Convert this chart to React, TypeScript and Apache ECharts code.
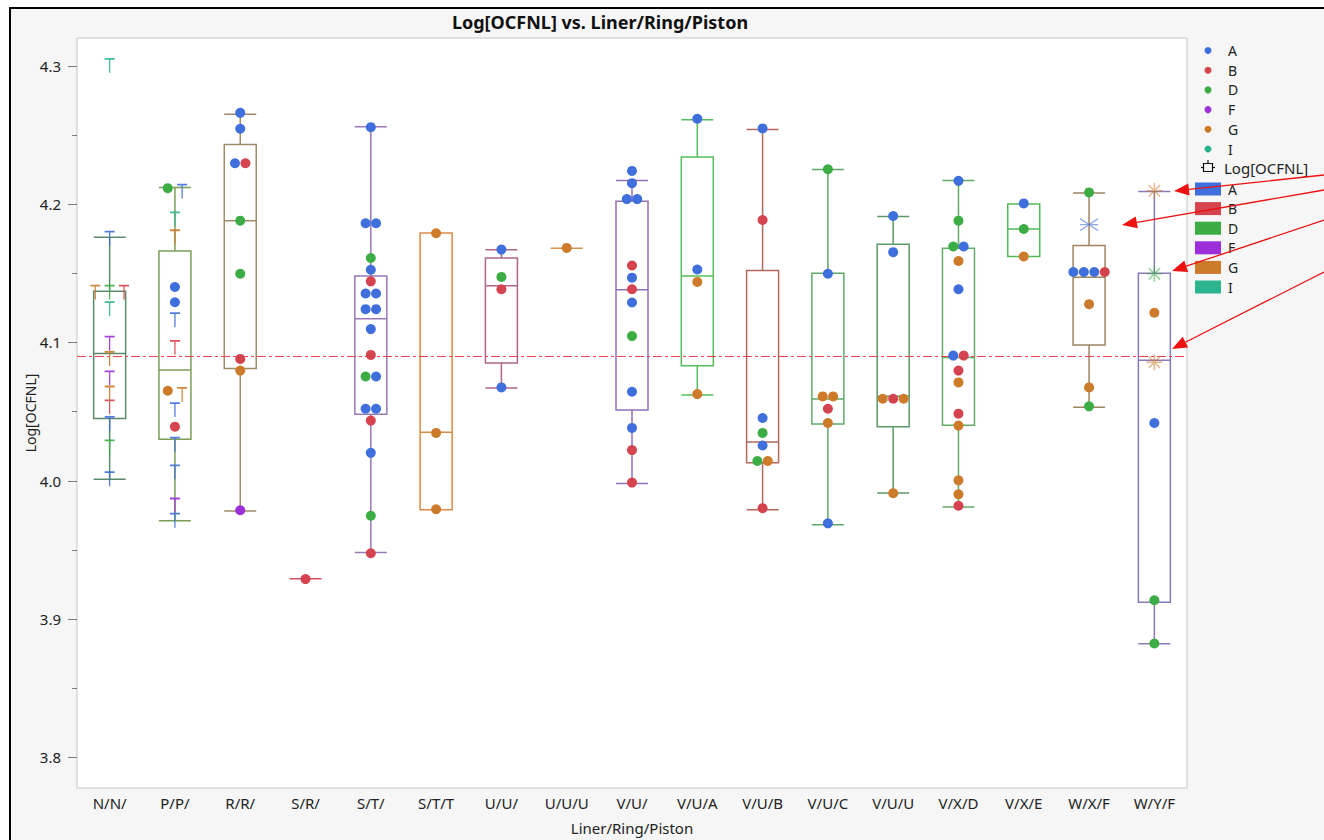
import React, { useEffect, useRef } from "react";
import * as echarts from "echarts";

// ---------- data ----------
const categories = ["N/N/", "P/P/", "R/R/", "S/R/", "S/T/", "S/T/T", "U/U/", "U/U/U", "V/U/", "V/U/A", "V/U/B", "V/U/C", "V/U/U", "V/X/D", "V/X/E", "W/X/F", "W/Y/F"];

const whiskerLow = [4.001, 3.971, 3.978, 3.929, 3.948, 3.979, 4.067, 4.168, 3.998, 4.062, 3.979, 3.968, 3.991, 3.981, 4.162, 4.053, 3.882];
const quartile1 = [4.045, 4.030, 4.081, 3.929, 4.048, 3.979, 4.085, 4.168, 4.051, 4.083, 4.013, 4.041, 4.039, 4.040, 4.162, 4.098, 3.912];
const medians = [4.092, 4.080, 4.188, 3.929, 4.117, 4.035, 4.141, 4.168, 4.138, 4.148, 4.028, 4.059, 4.061, 4.089, 4.182, 4.147, 4.087];
const quartile3 = [4.137, 4.166, 4.243, 3.929, 4.148, 4.179, 4.161, 4.168, 4.202, 4.234, 4.152, 4.150, 4.171, 4.168, 4.200, 4.170, 4.150];
const whiskerHigh = [4.176, 4.212, 4.265, 3.929, 4.256, 4.179, 4.167, 4.168, 4.217, 4.261, 4.254, 4.225, 4.191, 4.217, 4.200, 4.208, 4.209];

const overallMean = 4.0935;
const yTickValues = [3.8, 3.9, 4.0, 4.1, 4.2, 4.3];
const yMinorTickValues = [3.85, 3.95, 4.05, 4.15, 4.25];
const groups = ["A", "B", "D", "F", "G", "I"];

// points per category: [group, value, marker]  (o = dot, T = T marker, * = star, x = cross)
type Pt = [string, number, string];
const ptsNN: Pt[] = [["I", 4.300, "T"], ["A", 4.175, "T"], ["G", 4.136, "T"], ["D", 4.136, "T"], ["B", 4.136, "T"], ["I", 4.124, "T"], ["F", 4.099, "T"], ["G", 4.088, "T"], ["F", 4.074, "T"], ["G", 4.063, "T"], ["B", 4.053, "T"], ["A", 4.041, "T"], ["D", 4.024, "T"], ["A", 4.001, "T"]];
const ptsPP: Pt[] = [["D", 4.2115, "o"], ["A", 4.209, "T"], ["I", 4.189, "T"], ["G", 4.176, "T"], ["A", 4.140, "o"], ["A", 4.129, "o"], ["A", 4.116, "T"], ["B", 4.096, "T"], ["G", 4.065, "o"], ["G", 4.062, "T"], ["A", 4.051, "T"], ["B", 4.039, "o"], ["A", 4.026, "T"], ["A", 4.006, "T"], ["F", 3.982, "T"], ["A", 3.971, "T"]];
const ptsRR: Pt[] = [["A", 4.266, "o"], ["A", 4.2545, "o"], ["A", 4.2295, "o"], ["B", 4.2295, "o"], ["D", 4.188, "o"], ["D", 4.1496, "o"], ["B", 4.088, "o"], ["G", 4.0796, "o"], ["F", 3.9786, "o"]];
const ptsSR: Pt[] = [["B", 3.9288, "o"]];
const ptsST: Pt[] = [["A", 4.2556, "o"], ["A", 4.1861, "o"], ["A", 4.1861, "o"], ["D", 4.161, "o"], ["A", 4.1525, "o"], ["B", 4.1441, "o"], ["A", 4.1353, "o"], ["A", 4.1353, "o"], ["A", 4.124, "o"], ["A", 4.124, "o"], ["A", 4.1096, "o"], ["B", 4.0909, "o"], ["D", 4.0753, "o"], ["A", 4.0753, "o"], ["A", 4.052, "o"], ["A", 4.052, "o"], ["B", 4.0434, "o"], ["A", 4.0201, "o"], ["D", 3.9746, "o"], ["B", 3.9475, "o"]];
const ptsSTT: Pt[] = [["G", 4.1789, "o"], ["G", 4.0345, "o"], ["G", 3.9793, "o"]];
const ptsUU: Pt[] = [["A", 4.1671, "o"], ["D", 4.1473, "o"], ["B", 4.1384, "o"], ["A", 4.0674, "o"]];
const ptsUUU: Pt[] = [["G", 4.1683, "o"]];
const ptsVU: Pt[] = [["A", 4.224, "o"], ["A", 4.2151, "o"], ["A", 4.2036, "o"], ["A", 4.2036, "o"], ["B", 4.1556, "o"], ["A", 4.1468, "o"], ["B", 4.1384, "o"], ["A", 4.1288, "o"], ["D", 4.1045, "o"], ["A", 4.0643, "o"], ["A", 4.0381, "o"], ["B", 4.0221, "o"], ["B", 3.9986, "o"]];
const ptsVUA: Pt[] = [["A", 4.2617, "o"], ["A", 4.1527, "o"], ["G", 4.1437, "o"], ["G", 4.0626, "o"]];
const ptsVUB: Pt[] = [["A", 4.2547, "o"], ["B", 4.1885, "o"], ["A", 4.0453, "o"], ["D", 4.0345, "o"], ["A", 4.0254, "o"], ["D", 4.0142, "o"], ["G", 4.0142, "o"], ["B", 3.9801, "o"]];
const ptsVUC: Pt[] = [["D", 4.2252, "o"], ["A", 4.1496, "o"], ["G", 4.0609, "o"], ["G", 4.0609, "o"], ["B", 4.052, "o"], ["G", 4.0417, "o"], ["A", 3.9691, "o"]];
const ptsVUU: Pt[] = [["A", 4.1914, "o"], ["A", 4.1652, "o"], ["G", 4.0592, "o"], ["B", 4.0592, "o"], ["G", 4.0592, "o"], ["G", 3.9909, "o"]];
const ptsVXD: Pt[] = [["A", 4.2168, "o"], ["D", 4.188, "o"], ["D", 4.1693, "o"], ["A", 4.1693, "o"], ["G", 4.1588, "o"], ["A", 4.1384, "o"], ["A", 4.0904, "o"], ["B", 4.0904, "o"], ["B", 4.0796, "o"], ["G", 4.071, "o"], ["B", 4.0484, "o"], ["G", 4.0398, "o"], ["G", 4.0002, "o"], ["G", 3.9901, "o"], ["B", 3.9818, "o"]];
const ptsVXE: Pt[] = [["A", 4.2005, "o"], ["D", 4.182, "o"], ["G", 4.1621, "o"]];
const ptsWXF: Pt[] = [["D", 4.2084, "o"], ["A", 4.1851, "x"], ["A", 4.1509, "o"], ["A", 4.1509, "o"], ["A", 4.1509, "o"], ["B", 4.1509, "o"], ["G", 4.1276, "o"], ["G", 4.0674, "o"], ["D", 4.0537, "o"]];
const ptsWYF: Pt[] = [["G", 4.2096, "*"], ["D", 4.1496, "*"], ["G", 4.1214, "o"], ["G", 4.0856, "*"], ["A", 4.0417, "o"], ["D", 3.9135, "o"], ["D", 3.8822, "o"]];

const categoryPoints: Pt[][] = [ptsNN, ptsPP, ptsRR, ptsSR, ptsST, ptsSTT, ptsUU, ptsUUU, ptsVU, ptsVUA, ptsVUB, ptsVUC, ptsVUU, ptsVXD, ptsVXE, ptsWXF, ptsWYF];

// ---------- styles ----------
const groupColors: Record<string, string> = {
  A: "#3f6fdc",
  B: "#d5434f",
  D: "#3cad45",
  F: "#9c2fd9",
  G: "#cd7a2a",
  I: "#2bb48e",
};
const boxColors = ["#5a8a6a", "#7b9e55", "#a08a6a", "#cf5060", "#9a78b8", "#d98b45", "#b0658a", "#d9914e", "#9070b5", "#55be5a", "#b5685e", "#5fa86b", "#5a9a68", "#62ad66", "#55b95a", "#a08460", "#8c7ab8"];

const FONT = "'Noto Sans', 'DejaVu Sans', sans-serif";
const TXT = "#222";
const Y_MIN = 3.7777;
const Y_MAX = 4.3201;

const SYMBOLS: Record<string, { symbol: string; size: number | number[]; stroke: boolean; opacity: number }> = {
  o: { symbol: "circle", size: 10, stroke: false, opacity: 1 },
  T: { symbol: "path://M0,0H10M5,0V14", size: [10, 14], stroke: true, opacity: 0.9 },
  "*": { symbol: "path://M8,0V16M0,8H16M2.3,2.3L13.7,13.7M13.7,2.3L2.3,13.7", size: 16, stroke: true, opacity: 0.55 },
  x: { symbol: "path://M0,0L18,12M18,0L0,12M0,6H18", size: [18, 12], stroke: true, opacity: 0.6 },
};

function buildScatter() {
  const byGroup: Record<string, any[]> = {};
  groups.forEach((g) => (byGroup[g] = []));
  categoryPoints.forEach((pts, ci) => {
    const used = pts.map(() => false);
    for (let i = 0; i < pts.length; i++) {
      if (used[i]) continue;
      const cluster = [i];
      used[i] = true;
      for (let j = i + 1; j < pts.length; j++) {
        if (!used[j] && Math.abs(pts[j][1] - pts[i][1]) < 0.0045) {
          cluster.push(j);
          used[j] = true;
        }
      }
      const hasT = cluster.some((k) => pts[k][2] === "T");
      const step = hasT ? 0.22 : 0.16;
      cluster.forEach((k, idx) => {
        const [g, v, m] = pts[k];
        const off = (idx - (cluster.length - 1) / 2) * step;
        const s = SYMBOLS[m];
        const c = groupColors[g];
        byGroup[g].push({
          value: [ci + off, v],
          symbol: s.symbol,
          symbolSize: s.size,
          itemStyle: s.stroke
            ? { color: "none", borderColor: c, borderWidth: 1.5, opacity: s.opacity }
            : { color: c, borderWidth: 0, opacity: 1 },
        });
      });
    }
  });
  return groups.map((g) => ({
    type: "scatter",
    name: g,
    xAxisIndex: 1,
    yAxisIndex: 0,
    z: 5,
    data: byGroup[g],
    silent: true,
  }));
}

// y-axis ticks + tick labels drawn through the axis scale in one custom series
const tickRows: number[][] = [
  ...yTickValues.map((v) => [v, 1]),
  ...yMinorTickValues.map((v) => [v, 0]),
];

const tickSeries = {
  type: "custom",
  xAxisIndex: 1,
  yAxisIndex: 0,
  clip: false,
  silent: true,
  z: 50,
  dimensions: ["v", "major"],
  encode: { y: 0 },
  data: tickRows,
  renderItem: (params: any, api: any) => {
    const v = api.value(0);
    const major = api.value(1) === 1;
    const p = api.coord([-0.5, v]);
    const len = major ? 9 : 5;
    const y = Math.round(p[1]) + 0.5;
    const children: any[] = [
      {
        type: "rect",
        shape: { x: p[0] - len, y: y - 0.5, width: len, height: 1 },
        style: { fill: "#7a7a7a" },
      },
    ];
    if (major) {
      children.push({
        type: "text",
        x: p[0] - 16,
        y: p[1],
        style: {
          text: v.toFixed(1),
          fill: TXT,
          font: `15px ${FONT}`,
          align: "right",
          verticalAlign: "middle",
        },
      });
    }
    return { type: "group", children };
  },
};

function arrow(x1: number, y1: number, x2: number, y2: number) {
  const ang = Math.atan2(y2 - y1, x2 - x1);
  const L = 15;
  const W = 6;
  const bx = x2 - L * Math.cos(ang);
  const by = y2 - L * Math.sin(ang);
  const px = -Math.sin(ang) * W;
  const py = Math.cos(ang) * W;
  return [
    { type: "line", z: 100, shape: { x1, y1, x2: bx, y2: by }, style: { stroke: "#ee1111", lineWidth: 1.3 } },
    { type: "polygon", z: 100, shape: { points: [[x2, y2], [bx + px, by + py], [bx - px, by - py]] }, style: { fill: "#ee1111" } },
  ];
}

function buildGraphic() {
  const els: any[] = [];
  els.push({
    type: "text",
    x: 600,
    y: 22,
    style: { text: "Log[OCFNL] vs. Liner/Ring/Piston", fill: "#111", font: `bold 18px ${FONT}`, textAlign: "center", textVerticalAlign: "middle" },
  });
  groups.forEach((g, i) => {
    const cy = 50.5 + i * 19.7;
    els.push({ type: "circle", shape: { cx: 1208, cy, r: 3.5 }, style: { fill: groupColors[g] } });
    els.push({ type: "text", x: 1228, y: cy, style: { text: g, fill: TXT, font: `14px ${FONT}`, textVerticalAlign: "middle" } });
  });
  // box icon
  els.push({ type: "line", shape: { x1: 1201, y1: 167.5, x2: 1215, y2: 167.5 }, style: { stroke: "#111", lineWidth: 1.2 } });
  els.push({ type: "rect", shape: { x: 1203.5, y: 163.5, width: 9, height: 8 }, style: { fill: "#f6f6f6", stroke: "#111", lineWidth: 1.2 } });
  els.push({ type: "line", shape: { x1: 1208, y1: 160, x2: 1208, y2: 163.5 }, style: { stroke: "#111", lineWidth: 1.2 } });
  els.push({ type: "text", x: 1224, y: 167.5, style: { text: "Log[OCFNL]", fill: TXT, font: `15px ${FONT}`, textVerticalAlign: "middle" } });
  groups.forEach((g, i) => {
    const y = 182.5 + i * 19.6;
    els.push({ type: "rect", shape: { x: 1195, y, width: 26, height: 13 }, style: { fill: groupColors[g] } });
    els.push({ type: "text", x: 1228, y: y + 6.5, style: { text: g, fill: TXT, font: `14px ${FONT}`, textVerticalAlign: "middle" } });
  });
  els.push(...arrow(1324, 175, 1174, 191));
  els.push(...arrow(1324, 190, 1122, 225));
  els.push(...arrow(1324, 220, 1172, 271));
  els.push(...arrow(1324, 272, 1172, 349));
  return els;
}

export default function App() {
  const ref = useRef<HTMLDivElement>(null);
  useEffect(() => {
    if (!ref.current) return;
    const chart = echarts.init(ref.current, undefined, { renderer: "svg" });
    const option: any = {
      animation: false,
      backgroundColor: "transparent",
      textStyle: { fontFamily: FONT },
      grid: {
        left: 77,
        top: 38,
        width: 1110,
        height: 754,
        show: true,
        backgroundColor: "#ffffff",
        borderColor: "#c4c4c4",
        borderWidth: 1,
      },
      xAxis: [
        {
          type: "category",
          data: categories,
          boundaryGap: true,
          position: "bottom",
          axisLine: { show: false, onZero: false },
          axisTick: { show: false },
          axisLabel: { color: TXT, fontSize: 15, margin: 7, fontFamily: FONT },
          splitLine: { show: false },
          name: "Liner/Ring/Piston",
          nameLocation: "middle",
          nameGap: 32,
          nameTextStyle: { color: TXT, fontSize: 15, fontFamily: FONT },
        },
        { type: "value", min: -0.5, max: 16.5, show: false, axisLine: { onZero: false } },
      ],
      yAxis: [
        {
          type: "value",
          position: "left",
          min: Y_MIN,
          max: Y_MAX,
          axisLine: { show: false, onZero: false },
          splitLine: { show: false },
          axisTick: { show: false },
          axisLabel: { show: false },
          name: "Log[OCFNL]",
          nameLocation: "middle",
          nameGap: 40,
          nameMoveOverlap: false,
          nameRotate: 90,
          nameTextStyle: { color: TXT, fontSize: 14, fontFamily: FONT },
        },
      ],
      series: [
        {
          type: "boxplot",
          xAxisIndex: 0,
          yAxisIndex: 0,
          boxWidth: [32, 32],
          silent: true,
          z: 2,
          data: categories.map((c, i) => ({
            value: [whiskerLow[i], quartile1[i], medians[i], quartile3[i], whiskerHigh[i]],
            itemStyle: { color: "rgba(255,255,255,0)", borderColor: boxColors[i], borderWidth: 1.5 },
          })),
          markLine: {
            silent: true,
            symbol: ["none", "none"],
            label: { show: false },
            lineStyle: { color: "#f04050", type: [9, 3, 3, 3], width: 1.2 },
            data: [{ yAxis: overallMean }],
          },
        },
        tickSeries,
        ...buildScatter(),
      ],
      graphic: buildGraphic(),
    };
    chart.setOption(option);
    return () => chart.dispose();
  }, []);
  return (
    <div style={{ position: "fixed", left: 0, top: 0, width: 1324, height: 840, background: "#fff", overflow: "hidden" }}>
      <div
        style={{
          position: "absolute",
          left: 9,
          top: 7,
          width: 1324,
          height: 840,
          background: "#f6f6f6",
          borderLeft: "2px solid #000",
          borderTop: "2px solid #000",
        }}
      />
      <div ref={ref} style={{ position: "absolute", left: 0, top: 0, width: 1324, height: 840 }} />
    </div>
  );
}
